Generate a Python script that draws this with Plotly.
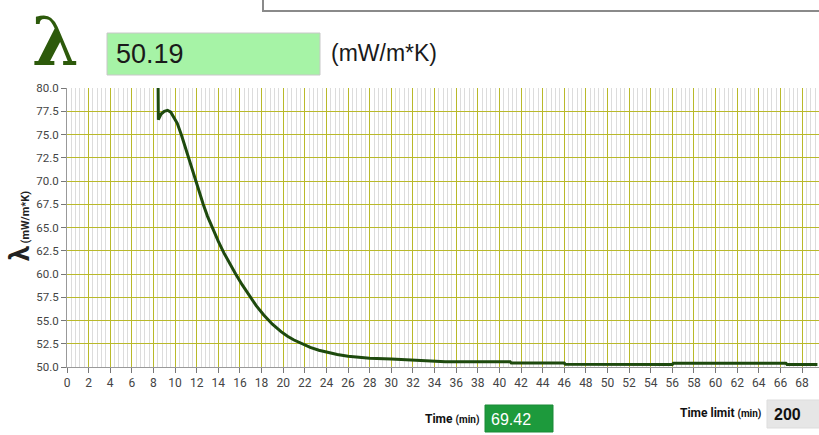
import plotly.graph_objects as go

# Data
time_min = [8.40, 8.45, 8.7, 9.0, 9.3, 9.6, 9.9, 10.2, 10.6, 11.2, 11.9, 12.6, 13.0, 13.5, 14.0,
            14.5, 15.0, 15.6, 16.2, 16.8, 17.5, 18.2, 19.0, 19.8, 20.4, 21.0, 21.7, 22.5, 23.3,
            24.0, 25.0, 26.0, 27.0, 28.0, 30.0, 32.0, 33.5, 35.0, 38.0, 41.0, 41.1, 44.0, 46.0,
            46.1, 50.0, 56.0, 56.1, 60.0, 66.5, 66.6, 69.42]
lambda_val = [85.0, 76.6, 77.2, 77.5, 77.6, 77.4, 76.8, 76.2, 74.9, 72.6, 70.0, 67.5, 66.2, 64.8, 63.5,
              62.3, 61.2, 60.0, 58.85, 57.8, 56.6, 55.6, 54.6, 53.8, 53.3, 52.9, 52.5, 52.1, 51.8,
              51.6, 51.35, 51.15, 51.03, 50.95, 50.85, 50.75, 50.62, 50.56, 50.56, 50.56, 50.42, 50.42, 50.42,
              50.3, 50.28, 50.28, 50.4, 50.4, 50.4, 50.28, 50.28]
x_ticks = list(range(0, 70, 2))
y_ticks = [50.0, 52.5, 55.0, 57.5, 60.0, 62.5, 65.0, 67.5, 70.0, 72.5, 75.0, 77.5, 80.0]
current_lambda = "50.19"
current_time = "69.42"
time_limit = "200"

W, H = 819, 435
L, R, T, B = 67, 0, 88, 68
PW, PH = W - L - R, H - T - B

def px(x):
    return (x - L) / PW

def py(y):
    return (H - B - y) / PH

fig = go.Figure()
fig.add_trace(go.Scatter(x=time_min, y=lambda_val, mode="lines",
                         line=dict(color="#1e4a0e", width=3),
                         showlegend=False, hoverinfo="skip"))

x_end = (W - L) / 10.81

fig.update_layout(
    width=W, height=H,
    margin=dict(l=L, r=R, t=T, b=B),
    paper_bgcolor="white", plot_bgcolor="white",
    font=dict(family="Roboto, DejaVu Sans, sans-serif", color="#333333"),
    xaxis=dict(range=[0, x_end], tickvals=x_ticks, ticks="outside", ticklen=5, tickcolor="#777",
               showgrid=True, gridcolor="#b9b92a", gridwidth=1.3, zeroline=False, automargin=False,
               showline=True, linecolor="#999", tickfont=dict(size=12, color="#444"),
               minor=dict(dtick=0.4, showgrid=True, gridcolor="#dcdcdc", gridwidth=1, ticks="")),
    yaxis=dict(range=[50, 80], tickvals=y_ticks, ticktext=[f"{v:.1f}" for v in y_ticks],
               ticks="outside", ticklen=5, tickcolor="#777", automargin=False,
               showgrid=True, gridcolor="#b9b92a", gridwidth=1.3, zeroline=False,
               showline=True, linecolor="#999", tickfont=dict(size=11.5, color="#444")),
)

shapes = []
annotations = []
# top box (partially visible)
shapes.append(dict(type="rect", xref="paper", yref="paper",
                   x0=px(263), x1=px(840), y0=py(11), y1=py(-10),
                   line=dict(color="#8a8a8a", width=2), fillcolor="white", layer="above"))
# big lambda
annotations.append(dict(xref="paper", yref="paper", x=px(55), y=py(41), text="<b>λ</b>",
                        showarrow=False, font=dict(size=67, color="#2d5a0b", family="DejaVu Serif"),
                        xanchor="center", yanchor="middle"))
# value box
shapes.append(dict(type="rect", xref="paper", yref="paper",
                   x0=px(107), x1=px(320), y0=py(75), y1=py(33),
                   line=dict(color="#c8c8c8", width=1), fillcolor="#a6f3a6", layer="above"))
annotations.append(dict(xref="paper", yref="paper", x=px(114), y=py(54), text=current_lambda,
                        showarrow=False, font=dict(size=27, color="#1a1a1a", family="Liberation Sans, Arial"),
                        xanchor="left", yanchor="middle"))
annotations.append(dict(xref="paper", yref="paper", x=px(329), y=py(53), text="(mW/m*K)",
                        showarrow=False, font=dict(size=23, color="#1a1a1a", family="Liberation Sans, Arial"),
                        xanchor="left", yanchor="middle"))
# y-axis title
annotations.append(dict(xref="paper", yref="paper", x=px(20), y=py(226),
                        text="<b><span style='font-size:27px'>λ</span> (mW/m*K)</b>",
                        showarrow=False, textangle=-90, font=dict(size=11, color="#222"),
                        xanchor="center", yanchor="middle"))
# Time
annotations.append(dict(xref="paper", yref="paper", x=px(481), y=py(419),
                        text="<b>Time <span style='font-size:10px'>(min)</span></b>",
                        showarrow=False, font=dict(size=12, color="#111"),
                        xanchor="right", yanchor="middle"))
shapes.append(dict(type="rect", xref="paper", yref="paper",
                   x0=px(485), x1=px(553), y0=py(432), y1=py(405),
                   line=dict(color="#1a8a36", width=1), fillcolor="#1d9a3c", layer="above"))
annotations.append(dict(xref="paper", yref="paper", x=px(489), y=py(419), text=current_time,
                        showarrow=False, font=dict(size=16, color="white", family="Liberation Sans, Arial"),
                        xanchor="left", yanchor="middle"))
# Time limit
annotations.append(dict(xref="paper", yref="paper", x=px(763), y=py(413),
                        text="<b>Time limit <span style='font-size:10px'>(min)</span></b>",
                        showarrow=False, font=dict(size=12, color="#111"),
                        xanchor="right", yanchor="middle"))
shapes.append(dict(type="rect", xref="paper", yref="paper",
                   x0=px(767), x1=px(840), y0=py(428), y1=py(400),
                   line=dict(color="#dddddd", width=1), fillcolor="#e6e6e6", layer="above"))
annotations.append(dict(xref="paper", yref="paper", x=px(772), y=py(414), text="<b>" + time_limit + "</b>",
                        showarrow=False, font=dict(size=16, color="#111", family="Liberation Sans, Arial"),
                        xanchor="left", yanchor="middle"))

fig.update_layout(shapes=shapes, annotations=annotations)
fig.write_html("out.html", config={"displayModeBar": False},
               post_script="document.body.style.margin='0';document.body.style.padding='0';document.body.style.overflow='hidden';")
